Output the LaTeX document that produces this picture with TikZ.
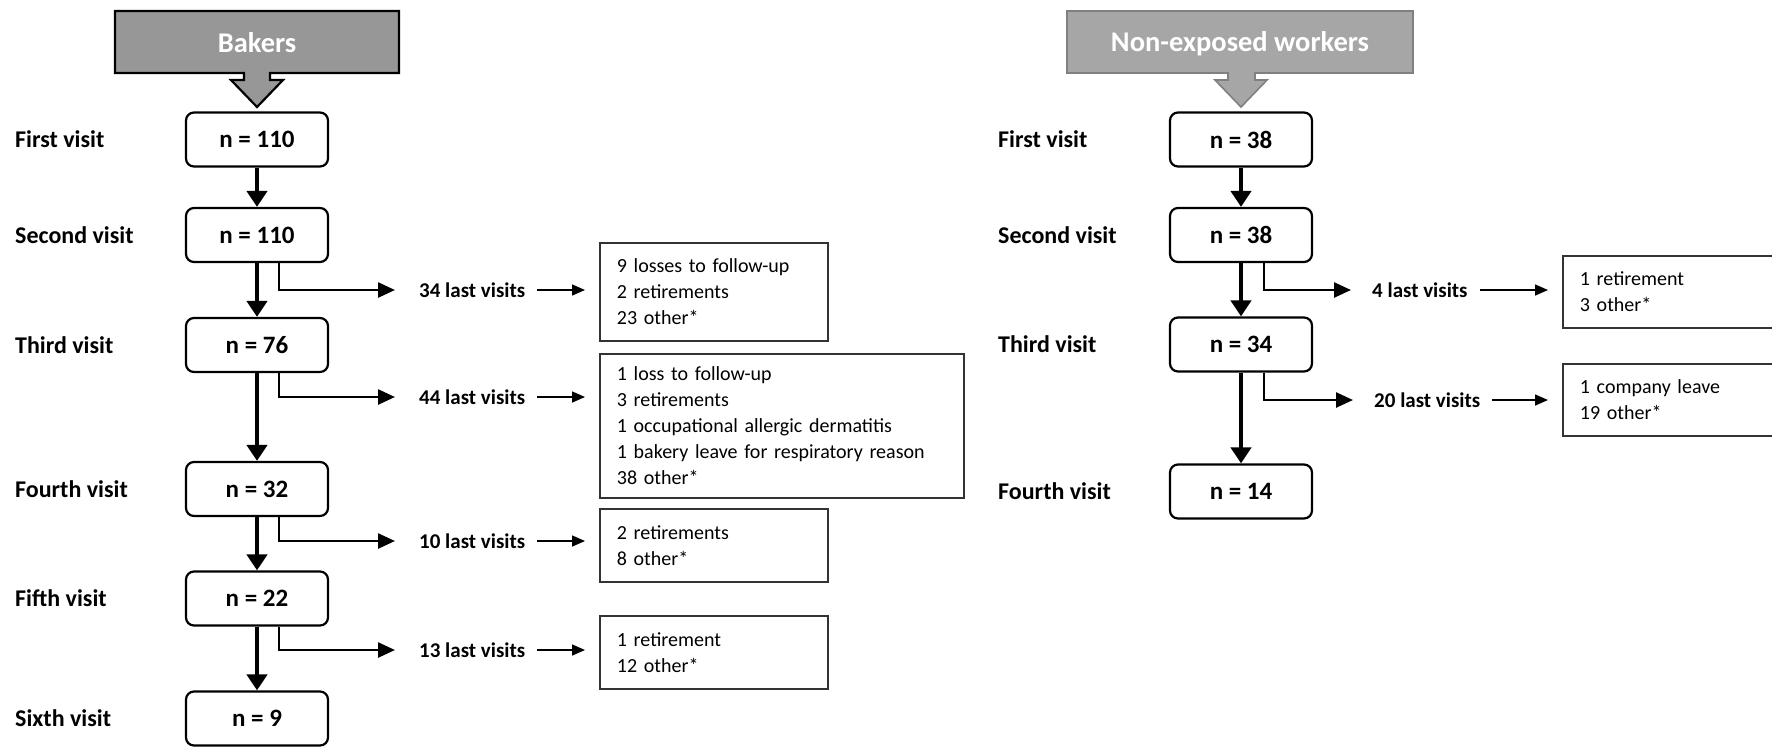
\documentclass[tikz,border=0pt]{standalone}
\usepackage{fontspec}
\setmainfont{Carlito}
\usetikzlibrary{arrows.meta,calc}
\definecolor{hdrA}{HTML}{979797}
\definecolor{hdrB}{HTML}{A6A6A6}
\definecolor{hdrBline}{HTML}{808080}
\definecolor{listline}{HTML}{333333}
\begin{document}
\begin{tikzpicture}[x=1pt,y=-1pt,
  vbox/.style={draw, line width=2.2pt, rounded corners=8pt, minimum width=142pt, minimum height=54pt, inner sep=0pt, font=\fontsize{25}{30}\selectfont\bfseries},
  vlabel/.style={anchor=west, inner sep=0pt, font=\fontsize{24}{28}\selectfont\bfseries},
  lastlbl/.style={anchor=west, inner sep=0pt, font=\fontsize{21}{25}\selectfont\bfseries},
  listbox/.style={draw=listline, line width=1.8pt, anchor=north west, align=left, inner xsep=17pt, inner ysep=0pt, font=\fontsize{20}{26}\selectfont},
  mainarr/.style={line width=4pt, -{Triangle[length=16pt,width=20pt]}},
  brarr/.style={line width=2.5pt, -{Triangle[length=17pt,width=15pt]}},
  smarr/.style={line width=1.5pt, -{Triangle[length=13pt,width=11pt]}},
  hdrtext/.style={text=white, font=\fontsize{28.5}{32}\selectfont\bfseries, inner sep=0pt, anchor=base}
]
\useasboundingbox (0,0) rectangle (1772,748);
\clip (0,0) rectangle (1772,748);
\fill[white] (0,0) rectangle (1772,748);

% ---------- Bakers ----------
\draw[line width=2.2pt, fill=hdrA, line join=miter] (115,11) -- (399,11) -- (399,73) -- (270,73) -- (270,80) -- (283,80) -- (257,107) -- (231,80) -- (244,80) -- (244,73) -- (115,73) -- cycle;
\node[hdrtext] (bakers) at (257,52) {Bakers};

\node[vbox] (b1) at (257,139.5) {n = 110};
\node[vbox] (b2) at (257,235) {n = 110};
\node[vbox] (b3) at (257,345) {n = 76};
\node[vbox] (b4) at (257,489) {n = 32};
\node[vbox] (b5) at (257,598.5) {n = 22};
\node[vbox] (b6) at (257,718.5) {n = 9};

\node[vlabel] (bl1) at (15,139.5) {First visit};
\node[vlabel] (bl2) at (15,235) {Second visit};
\node[vlabel] (bl3) at (15,345) {Third visit};
\node[vlabel] (bl4) at (15,489) {Fourth visit};
\node[vlabel] (bl5) at (15,598.5) {Fifth visit};
\node[vlabel] (bl6) at (15,718.5) {Sixth visit};

\draw[mainarr] (b1.south) -- (b2.north);
\draw[mainarr] (b2.south) -- (b3.north);
\draw[mainarr] (b3.south) -- (b4.north);
\draw[mainarr] (b4.south) -- (b5.north);
\draw[mainarr] (b5.south) -- (b6.north);

\node[lastlbl] (l34) at (419,290) {34 last visits};
\node[lastlbl] (l44) at (419,397) {44 last visits};
\node[lastlbl] (l10) at (419,541) {10 last visits};
\node[lastlbl] (l13) at (419,650) {13 last visits};

\node[listbox, text width=194pt, minimum height=98pt] (r1) at (599,242) {9 losses to follow-up\\2 retirements\\23 other*};
\node[listbox, text width=330pt, minimum height=144pt] (r2) at (599,353) {1 loss to follow-up\\3 retirements\\1 occupational allergic dermatitis\\1 bakery leave for respiratory reason\\38 other*};
\node[listbox, text width=194pt, minimum height=73pt] (r3) at (599,508) {2 retirements\\8 other*};
\node[listbox, text width=194pt, minimum height=73pt] (r4) at (599,615) {1 retirement\\12 other*};

\draw[brarr] ([xshift=22pt]b2.south) |- ([xshift=-24pt]l34.west);
\draw[brarr] ([xshift=22pt]b3.south) |- ([xshift=-24pt]l44.west);
\draw[brarr] ([xshift=22pt]b4.south) |- ([xshift=-24pt]l10.west);
\draw[brarr] ([xshift=22pt]b5.south) |- ([xshift=-24pt]l13.west);

\draw[smarr] ([xshift=12pt]l34.east) -- ($(l34.east -| r1.west)+(-14,0)$);
\draw[smarr] ([xshift=12pt]l44.east) -- ($(l44.east -| r2.west)+(-14,0)$);
\draw[smarr] ([xshift=12pt]l10.east) -- ($(l10.east -| r3.west)+(-14,0)$);
\draw[smarr] ([xshift=12pt]l13.east) -- ($(l13.east -| r4.west)+(-14,0)$);

% ---------- Non-exposed workers ----------
\draw[line width=1.6pt, draw=hdrBline, fill=hdrB, line join=miter] (1067,11) -- (1413,11) -- (1413,73) -- (1255,73) -- (1255,80) -- (1267,80) -- (1241,107) -- (1215,80) -- (1228,80) -- (1228,73) -- (1067,73) -- cycle;
\node[hdrtext] (nonexp) at (1240,51.5) {Non-exposed workers};

\node[vbox] (c1) at (1241,139.5) {n = 38};
\node[vbox] (c2) at (1241,235) {n = 38};
\node[vbox] (c3) at (1241,344.5) {n = 34};
\node[vbox] (c4) at (1241,491.5) {n = 14};

\node[vlabel] (cl1) at (998,139.5) {First visit};
\node[vlabel] (cl2) at (998,235) {Second visit};
\node[vlabel] (cl3) at (998,344.5) {Third visit};
\node[vlabel] (cl4) at (998,491.5) {Fourth visit};

\draw[mainarr] (c1.south) -- (c2.north);
\draw[mainarr] (c2.south) -- (c3.north);
\draw[mainarr] (c3.south) -- (c4.north);

\node[lastlbl] (m4) at (1372,290) {4 last visits};
\node[lastlbl] (m20) at (1374,400) {20 last visits};

\node[listbox, text width=194pt, minimum height=72pt] (s1) at (1562,255) {1 retirement\\3 other*};
\node[listbox, text width=194pt, minimum height=72pt] (s2) at (1562,363) {1 company leave\\19 other*};

\draw[brarr] ([xshift=23pt]c2.south) |- ([xshift=-21pt]m4.west);
\draw[brarr] ([xshift=23pt]c3.south) |- ([xshift=-21pt]m20.west);

\draw[smarr] ([xshift=12pt]m4.east) -- ($(m4.east -| s1.west)+(-14,0)$);
\draw[smarr] ([xshift=12pt]m20.east) -- ($(m20.east -| s2.west)+(-14,0)$);
\end{tikzpicture}
\end{document}
